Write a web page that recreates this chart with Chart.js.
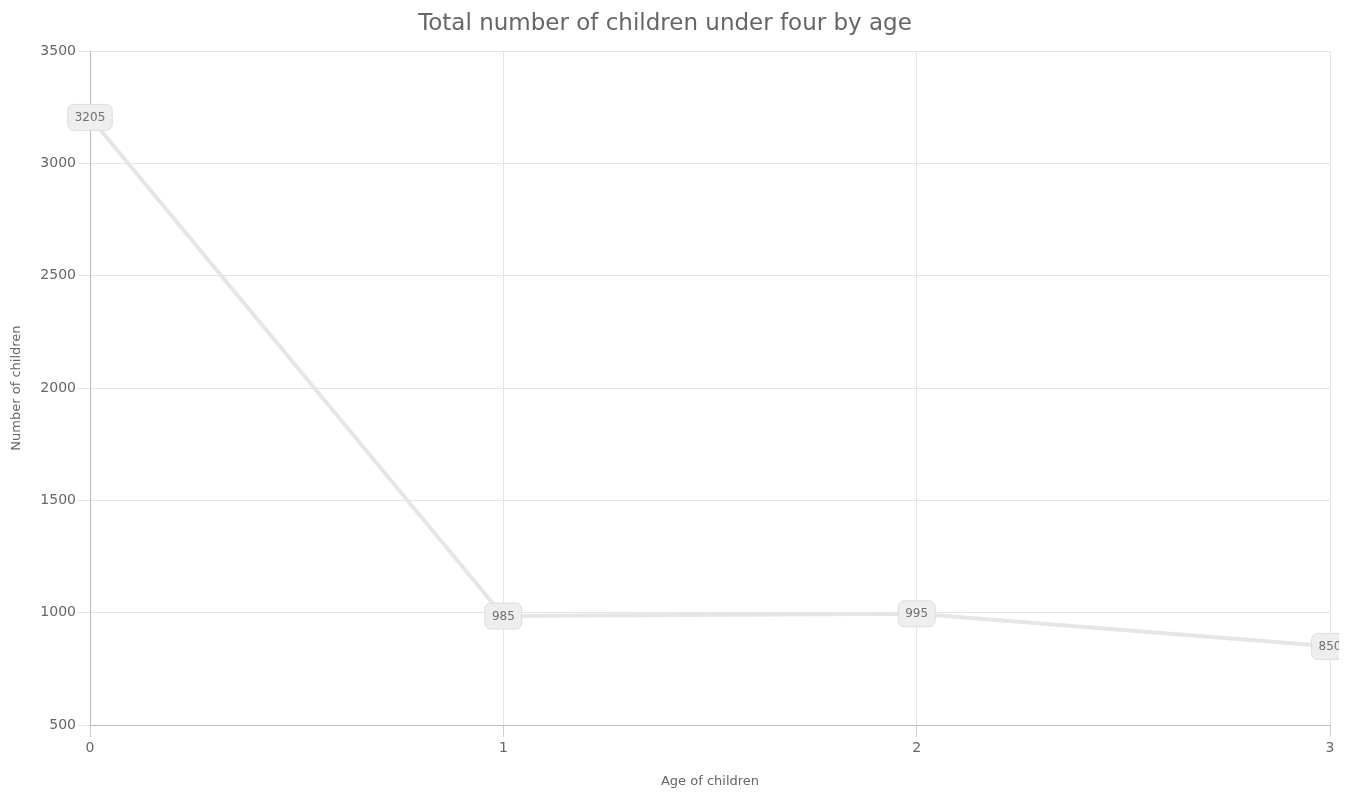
<!DOCTYPE html>
<html>
<head>
<meta charset="utf-8">
<script src="https://cdn.jsdelivr.net/npm/chart.js@4/dist/chart.umd.min.js"></script>
<style>
  html, body { margin: 0; padding: 0; background: #fff; }
  #wrap { width: 1354px; height: 793px; position: relative; }
</style>
</head>
<body>
<div id="wrap"><canvas id="chart"></canvas></div>
<script>
// Children under four, counted by age in years
const ages = [0, 1, 2, 3];
const childCounts = [3205, 985, 995, 850];
const yTicks = [500, 1000, 1500, 2000, 2500, 3000, 3500];

const FONT = "'DejaVu Sans', 'Liberation Sans', sans-serif";

// Rounded value badges drawn on top of each point (cut off just past the plot's right edge)
const valueBadges = {
  id: 'valueBadges',
  afterDatasetsDraw(chart) {
    const ctx = chart.ctx;
    const area = chart.chartArea;
    const meta = chart.getDatasetMeta(0);
    const values = chart.data.datasets[0].data;
    ctx.save();
    ctx.beginPath();
    ctx.rect(0, 0, area.right + 9, chart.height);
    ctx.clip();
    ctx.font = "12px " + FONT;
    ctx.textAlign = 'center';
    ctx.textBaseline = 'middle';
    meta.data.forEach((pt, i) => {
      const text = String(values[i].y);
      const w = ctx.measureText(text).width + 14;
      const h = 26;
      const x = pt.x - w / 2;
      const y = pt.y - h / 2;
      ctx.beginPath();
      ctx.roundRect(x, y, w, h, 6);
      ctx.fillStyle = '#eeeeee';
      ctx.fill();
      ctx.lineWidth = 1;
      ctx.strokeStyle = '#dddddd';
      ctx.stroke();
      ctx.fillStyle = '#707070';
      ctx.fillText(text, pt.x, pt.y + 0.5);
    });
    ctx.restore();
  }
};

new Chart(document.getElementById('chart'), {
  type: 'line',
  data: {
    datasets: [{
      data: ages.map((a, i) => ({ x: a, y: childCounts[i] })),
      borderColor: '#e6e6e6',
      borderWidth: 4,
      pointRadius: 0,
      fill: false,
      tension: 0
    }]
  },
  options: {
    responsive: true,
    maintainAspectRatio: false,
    animation: false,
    layout: { padding: { left: 0, right: 24, top: 0, bottom: 0 } },
    plugins: {
      legend: { display: false },
      tooltip: { enabled: false },
      title: {
        display: true,
        text: 'Total number of children under four by age',
        color: '#666666',
        font: { family: FONT, size: 23, weight: 'normal' },
        padding: { top: 10, bottom: 13.5 }
      }
    },
    scales: {
      x: {
        type: 'linear',
        min: 0,
        max: 3,
        ticks: {
          stepSize: 1,
          color: '#666666',
          font: { family: FONT, size: 14 },
          padding: 3
        },
        grid: { color: '#e5e5e5', tickLength: 12, tickColor: '#cccccc' },
        border: { color: '#bbbbbb' },
        title: {
          display: true,
          text: 'Age of children',
          color: '#666666',
          font: { family: FONT, size: 13 },
          padding: { top: 12 }
        },
        afterFit(scale) { scale.height = 68; }
      },
      y: {
        min: 500,
        max: 3500,
        afterBuildTicks(scale) { scale.ticks = yTicks.map(v => ({ value: v })); },
        ticks: {
          color: '#666666',
          font: { family: FONT, size: 14 },
          padding: 2,
          callback: v => String(v)
        },
        grid: { color: '#e5e5e5', tickLength: 12, tickColor: '#e5e5e5' },
        border: { color: '#bbbbbb' },
        title: {
          display: true,
          text: 'Number of children',
          color: '#666666',
          font: { family: FONT, size: 13 },
          padding: { top: 9, bottom: 4 }
        },
        afterFit(scale) { scale.width = 90; }
      }
    }
  },
  plugins: [valueBadges]
});
</script>
</body>
</html>
